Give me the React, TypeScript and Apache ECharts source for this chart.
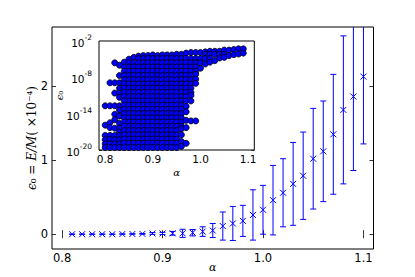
import React, { useEffect, useRef } from "react";
import * as echarts from "echarts";

// Main plot: mean epsilon_0 (x1e-4) with error bars
const MAIN_ALPHA = [0.81, 0.82, 0.83, 0.84, 0.85, 0.86, 0.87, 0.88, 0.89, 0.9, 0.91, 0.92, 0.93, 0.94, 0.95, 0.96, 0.97, 0.98, 0.99, 1.0, 1.01, 1.02, 1.03, 1.04, 1.05, 1.06, 1.07, 1.08, 1.09, 1.1];
const MAIN_EPS = [0, 0, 0, 0, 0, 0.002, 0.003, 0.005, 0.01, 0.01, 0.012, 0.012, 0.02, 0.035, 0.05, 0.11, 0.145, 0.18, 0.26, 0.33, 0.46, 0.56, 0.68, 0.79, 1.02, 1.12, 1.35, 1.68, 1.86, 2.13];
const MAIN_ERR = [0, 0, 0, 0, 0, 0.002, 0.003, 0.005, 0.012, 0.015, 0.025, 0.055, 0.043, 0.065, 0.095, 0.19, 0.23, 0.21, 0.34, 0.33, 0.47, 0.46, 0.56, 0.59, 0.68, 0.68, 0.81, 1.0, 1.0, 0.91];
const MAIN_X_TICKS = [0.8, 0.9, 1.0, 1.1];
const MAIN_Y_TICKS = [0, 1, 2];

// Inset: log10(epsilon_0) of individual samples per alpha column
const INSET_ALPHA = [0.8, 0.81, 0.82, 0.83, 0.84, 0.85, 0.86, 0.87, 0.88, 0.89, 0.9, 0.91, 0.92, 0.93, 0.94, 0.95, 0.96, 0.97, 0.98, 0.99, 1.0, 1.01, 1.02, 1.03, 1.04, 1.05, 1.06, 1.07, 1.08, 1.09];
const INSET_LEVELS = [-2.8, -3.5, -4.2, -4.9, -5.6, -6.3, -7.0, -7.7, -8.4, -9.1, -9.8, -10.5, -11.2, -11.9, -12.6, -13.3, -14.0, -14.7, -15.4, -16.1, -16.8, -17.5, -18.2, -18.9, -19.6];
const INSET_TOP: (number | null)[] = [null, null, null, null, -5.5, -5.0, -4.7, -4.5, -4.4, -4.4, -4.3, -4.4, -4.3, -4.3, -4.3, -4.2, -4.2, -4.0, -3.9, -3.9, -3.9, -3.8, -3.7, -3.7, -3.7, -3.5, -3.5, -3.4, -3.3, -3.3];
const INSET_BOTTOM: (number | null)[] = [null, null, null, null, -19.6, -19.6, -19.6, -19.6, -19.6, -19.6, -19.6, -19.6, -19.6, -19.6, -19.6, -19.6, -16.5, -12.8, -11.0, -7.5, -6.5, -5.8, -5.5, -5.25, -4.8, -4.7, -4.4, -4.25, -4.15, -4.0];
const INSET_EXTRA: number[][] = [
  [-12.7, -15.9, -17.6, -18.3, -19.0, -19.6],
  [-8.9, -12.7, -15.5, -16.3, -17.6, -18.3, -19.0, -19.6],
  [-5.6, -8.9, -10.6, -12.7, -14.1, -15.0, -16.4, -17.6, -18.3, -19.0, -19.6],
  [-6.0, -7.7, -8.9, -9.8, -10.6, -11.3, -12.7, -13.4, -14.4, -15.6, -16.4, -17.0, -17.6, -18.3, -19.0, -19.6],
  [], [], [], [], [], [], [], [], [], [], [], [],
  [-17.5, -18.6, -19.4],
  [-13.7, -15.1, -16.3, -18.9],
  [-11.9, -15.2],
  [-8.3, -9.0, -15.2],
  [], [], [], [], [], [], [], [], [], [],
];
const INSET_Y_LABELS = [-20, -14, -8, -2];

function buildInset(): number[][] {
  const pts: number[][] = [];
  INSET_ALPHA.forEach((a, i) => {
    const top = INSET_TOP[i];
    const bot = INSET_BOTTOM[i];
    if (top !== null && bot !== null) {
      pts.push([a, top]);
      INSET_LEVELS.forEach((l) => {
        if (l < top - 0.35 && l > bot + 0.35) pts.push([a, l]);
      });
      pts.push([a, bot]);
    }
    INSET_EXTRA[i].forEach((e) => pts.push([a, e]));
  });
  return pts;
}

const SANS = "DejaVu Sans";
const SERIF = "DejaVu Serif";

export default function App() {
  const ref = useRef<HTMLDivElement>(null);
  useEffect(() => {
    if (!ref.current) return;
    const chart = echarts.init(ref.current, null, { renderer: "svg" });
    const mainData = MAIN_ALPHA.map((a, i) => [a, MAIN_EPS[i], MAIN_ERR[i]]);
    const tickStyle = { color: "#000", width: 0.8 };
    const option: any = {
      animation: false,
      backgroundColor: "#fff",
      grid: [
        { left: 52, top: 27, right: 41.5, bottom: 28, show: true, borderColor: "#000", borderWidth: 1, backgroundColor: "transparent", containLabel: false, outerBoundsMode: "none" },
        { left: 99, top: 41, right: 160.7, bottom: 127, show: true, borderColor: "#000", borderWidth: 1, backgroundColor: "#fff", z: 5, containLabel: false, outerBoundsMode: "none" },
      ],
      xAxis: [
        {
          type: "value", gridIndex: 0, min: 0.79, max: 1.11, position: "bottom",
          axisLine: { show: false }, splitLine: { show: false },
          axisTick: { inside: true, length: 4, lineStyle: tickStyle, customValues: MAIN_X_TICKS },
          axisLabel: { customValues: MAIN_X_TICKS, formatter: (v: number) => v.toFixed(1), color: "#000", fontFamily: SANS, fontSize: 11.5, margin: 3 },
          name: "α", nameLocation: "middle", nameGap: 13, nameMoveOverlap: false,
          nameTextStyle: { fontFamily: SERIF, fontStyle: "italic", fontSize: 11, color: "#000" },
        },
        {
          type: "value", gridIndex: 0, min: 0.79, max: 1.11, position: "top",
          axisLine: { show: false }, splitLine: { show: false },
          axisTick: { inside: true, length: 4, lineStyle: tickStyle, customValues: MAIN_X_TICKS },
          axisLabel: { show: false },
        },
        {
          type: "value", gridIndex: 1, min: 0.787, max: 1.113, position: "bottom",
          axisLine: { show: false }, splitLine: { show: false },
          axisTick: { inside: true, length: 3, lineStyle: tickStyle, customValues: MAIN_X_TICKS },
          axisLabel: { customValues: MAIN_X_TICKS, formatter: (v: number) => v.toFixed(1), color: "#000", fontFamily: SANS, fontSize: 10.5, margin: 3 },
          name: "α", nameLocation: "middle", nameGap: 17, nameMoveOverlap: false,
          nameTextStyle: { fontFamily: SERIF, fontStyle: "italic", fontSize: 10, color: "#000" },
        },
        {
          type: "value", gridIndex: 1, min: 0.787, max: 1.113, position: "top",
          axisLine: { show: false }, splitLine: { show: false },
          axisTick: { inside: true, length: 3, lineStyle: tickStyle, customValues: MAIN_X_TICKS },
          axisLabel: { show: false },
        },
      ],
      yAxis: [
        {
          type: "value", gridIndex: 0, min: -0.2, max: 2.8, position: "left",
          axisLine: { show: false }, splitLine: { show: false },
          axisTick: { inside: true, length: 4, lineStyle: tickStyle, customValues: MAIN_Y_TICKS },
          axisLabel: { customValues: MAIN_Y_TICKS, color: "#000", fontFamily: SANS, fontSize: 11.5, margin: 4 },
          name: "{i|ϵ}{r|₀ = }{i|E/M}{r|( ×10⁻⁴)}", nameLocation: "middle", nameGap: 14, nameMoveOverlap: false,
          nameTextStyle: {
            fontFamily: SERIF, fontSize: 12, color: "#000",
            rich: {
              i: { fontFamily: SERIF, fontStyle: "italic", fontSize: 12, color: "#000" },
              r: { fontFamily: SERIF, fontSize: 12, color: "#000" },
            },
          },
        },
        {
          type: "value", gridIndex: 0, min: -0.2, max: 2.8, position: "right",
          axisLine: { show: false }, splitLine: { show: false },
          axisTick: { inside: true, length: 4, lineStyle: tickStyle, customValues: MAIN_Y_TICKS },
          axisLabel: { show: false },
        },
        {
          type: "value", gridIndex: 1, min: -20, max: -2, interval: 2, position: "left",
          axisLine: { show: false }, splitLine: { show: false },
          axisTick: { inside: true, length: 3, lineStyle: tickStyle },
          axisLabel: {
            margin: 7, color: "#000",
            formatter: (v: number) => (INSET_Y_LABELS.indexOf(v) >= 0 ? `{b|10}{s|${v}}` : ""),
            rich: {
              b: { fontFamily: SANS, fontSize: 10.5, color: "#000", verticalAlign: "bottom", lineHeight: 15 },
              s: { fontFamily: SANS, fontSize: 7.5, color: "#000", verticalAlign: "top", lineHeight: 15 },
            },
          },
          name: "{i|ϵ}{r|₀}", nameLocation: "middle", nameGap: 35, nameMoveOverlap: false,
          nameTextStyle: {
            fontFamily: SERIF, fontSize: 10, color: "#000",
            rich: {
              i: { fontFamily: SERIF, fontStyle: "italic", fontSize: 10, color: "#000" },
              r: { fontFamily: SERIF, fontSize: 10, color: "#000" },
            },
          },
        },
        {
          type: "value", gridIndex: 1, min: -20, max: -2, interval: 2, position: "right",
          axisLine: { show: false }, splitLine: { show: false },
          axisTick: { inside: true, length: 3, lineStyle: tickStyle },
          axisLabel: { show: false },
        },
      ],
      series: [
        {
          type: "custom",
          xAxisIndex: 0,
          yAxisIndex: 0,
          clip: true,
          data: mainData,
          renderItem: (params: any, api: any) => {
            const x = api.value(0);
            const y = api.value(1);
            const e = api.value(2);
            const c = api.coord([x, y]);
            const t = api.coord([x, y + e]);
            const b = api.coord([x, y - e]);
            const s = { stroke: "#0000ff", lineWidth: 1, fill: "none" };
            const m = 3;
            return {
              type: "group",
              children: [
                { type: "line", shape: { x1: c[0], y1: t[1], x2: c[0], y2: b[1] }, style: s },
                { type: "line", shape: { x1: c[0] - 3, y1: t[1], x2: c[0] + 3, y2: t[1] }, style: s },
                { type: "line", shape: { x1: c[0] - 3, y1: b[1], x2: c[0] + 3, y2: b[1] }, style: s },
                { type: "line", shape: { x1: c[0] - m, y1: c[1] - m, x2: c[0] + m, y2: c[1] + m }, style: s },
                { type: "line", shape: { x1: c[0] - m, y1: c[1] + m, x2: c[0] + m, y2: c[1] - m }, style: s },
              ],
            };
          },
        },
        {
          type: "scatter",
          xAxisIndex: 2,
          yAxisIndex: 2,
          z: 6,
          clip: true,
          symbol: "circle",
          symbolSize: 6,
          data: buildInset(),
          itemStyle: { color: "#0000ff", borderColor: "#000", borderWidth: 0.8, opacity: 1 },
        },
      ],
    };
    chart.setOption(option);
    return () => chart.dispose();
  }, []);
  return <div ref={ref} style={{ position: "fixed", left: 0, top: 0, width: 415, height: 277 }} />;
}
